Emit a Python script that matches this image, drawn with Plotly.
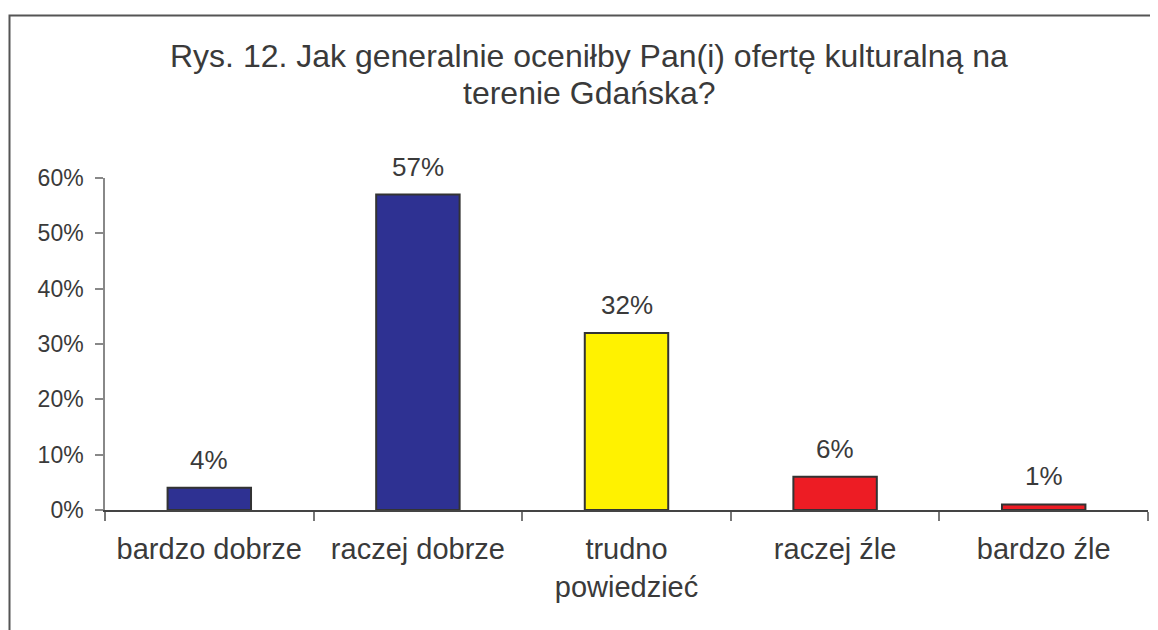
import plotly.graph_objects as go

categories = ["bardzo dobrze", "raczej dobrze", "trudno<br>powiedzieć", "raczej źle", "bardzo źle"]
values = [0.04, 0.57, 0.32, 0.06, 0.01]
labels = ["4%", "57%", "32%", "6%", "1%"]
colors = ["#2E3192", "#2E3192", "#FFF200", "#ED1C24", "#ED1C24"]

title_lines = ["Rys. 12. Jak generalnie oceniłby Pan(i) ofertę kulturalną na", "terenie Gdańska?"]
text_color = "#3a3a3a"
font_family = "Liberation Sans, Arial, sans-serif"

fig = go.Figure()
fig.add_trace(go.Bar(
    x=categories,
    y=values,
    width=0.4,
    marker=dict(color=colors, line=dict(color="#333333", width=2)),
    hoverinfo="skip",
))

for cat, val, lab in zip(categories, values, labels):
    fig.add_annotation(
        x=cat, y=val, text=lab, showarrow=False,
        yanchor="bottom", yshift=11,
        font=dict(size=26, color=text_color, family=font_family),
    )

# the page body adds an 8px offset, so margins are shifted to compensate
W, H = 1158, 630
off = 8
ml, mr, mt, mb = 105 - off, 10 + off, 178 - off, 120 + off
pw, ph = W - ml - mr, H - mt - mb


def px_x(x):
    return (x - off - ml) / pw


def px_y(y):
    return (H - mb - (y - off)) / ph


# title as two lines with tighter spacing
for line, ypos in zip(title_lines, [56, 93]):
    fig.add_annotation(
        xref="paper", yref="paper", x=px_x(589), y=px_y(ypos),
        xanchor="center", yanchor="middle", text=line, showarrow=False,
        font=dict(size=32, color=text_color, family=font_family),
    )

# outer chart border (extends past right and bottom edges)
fig.add_shape(
    type="rect", xref="paper", yref="paper",
    x0=px_x(9.5), x1=px_x(W + 40),
    y0=px_y(H + 40), y1=px_y(15.5),
    line=dict(color="#555555", width=2), fillcolor="rgba(0,0,0,0)",
    layer="below",
)

fig.update_layout(
    width=W, height=H,
    margin=dict(l=ml, r=mr, t=mt, b=mb),
    paper_bgcolor="white", plot_bgcolor="white",
    showlegend=False,
    font=dict(family=font_family, color=text_color, size=24),
    xaxis=dict(
        type="category", showline=True, linecolor="#444444", linewidth=2,
        ticks="outside", tickson="boundaries", ticklen=9, tickcolor="#777777",
        tickwidth=1.5, showgrid=False, zeroline=False,
        tickfont=dict(size=29, color=text_color), ticklabelstandoff=12,
    ),
    yaxis=dict(
        range=[0, 0.6], dtick=0.1, tickformat=".0%",
        showline=True, linecolor="#888888", linewidth=1.5,
        ticks="outside", ticklen=8, tickcolor="#888888", tickwidth=1.5,
        showgrid=False, zeroline=False,
        tickfont=dict(size=23, color=text_color), ticklabelstandoff=7,
    ),
)

fig.write_html("out.html")
